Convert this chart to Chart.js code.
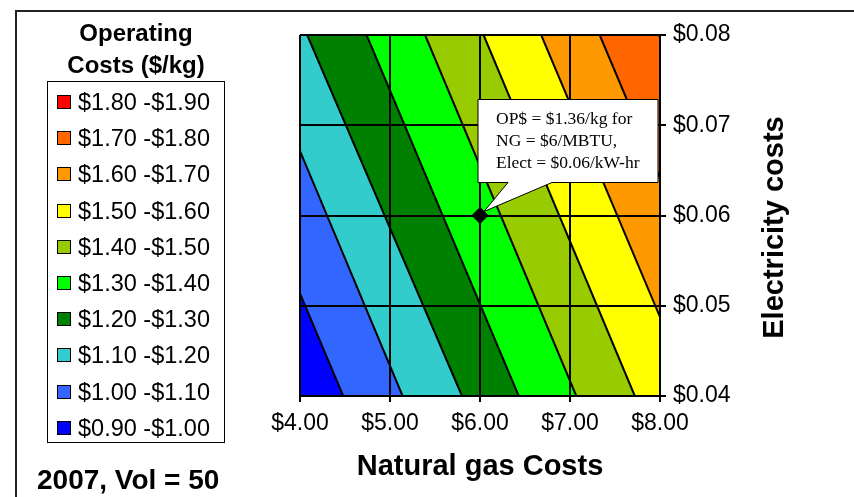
<!DOCTYPE html>
<html>
<head>
<meta charset="utf-8">
<script src="https://cdn.jsdelivr.net/npm/chart.js@4.4.1/dist/chart.umd.min.js"></script>
<style>
  body { margin: 0; background: #fff; font-family: "Liberation Sans", Arial, sans-serif; }
  #wrap { position: relative; width: 854px; height: 497px; overflow: hidden; }
  #frame { position: absolute; left: 15px; top: 10px; width: 900px; height: 600px; border: 2px solid #222; box-sizing: border-box; }
  #myChart { position: absolute; left: 0; top: 0; }
  #legendTitle { position: absolute; left: 47px; width: 178px; top: 17px; text-align: center; font-weight: bold; font-size: 24px; line-height: 32px; }
  #legendBox { position: absolute; left: 47px; top: 81px; width: 178px; height: 362px; border: 1px solid #000; box-sizing: border-box; }
  .item { position: absolute; left: 0; height: 28px; line-height: 28px; font-size: 23.5px; }
  .sw { position: absolute; left: 9px; top: 7px; width: 14px; height: 14px; border: 1px solid #000; box-sizing: border-box; }
  .lbl { position: absolute; left: 30px; top: 0; white-space: nowrap; }
  #volNote { position: absolute; left: 37px; top: 464px; font-weight: bold; font-size: 28px; line-height: 32px; }
</style>
</head>
<body>
<div id="wrap">
  <div id="frame"></div>
  <canvas id="myChart" width="854" height="497"></canvas>
  <div id="legendTitle">Operating<br>Costs ($/kg)</div>
  <div id="legendBox"></div>
  <div id="volNote">2007, Vol = 50</div>
</div>
<script>
// contour levels ($/kg) and where each contour line meets the top / bottom of the plot (NG $/MBTU)
const levels = [0.90, 1.00, 1.10, 1.20, 1.30, 1.40, 1.50, 1.60, 1.70, 1.80, 1.90];
const ngAtElect008 = [2.13, 2.79, 3.46, 4.08, 4.74, 5.39, 6.04, 6.68, 7.33, 7.99, 8.64];
const ngAtElect004 = [3.81, 4.48, 5.14, 5.80, 6.43, 7.07, 7.72, 8.37, 9.02, 9.68, 10.33];
const electEdges = [0.04, 0.08];

// bands, lowest first
const bandLabels = ['$0.90 -$1.00', '$1.00 -$1.10', '$1.10 -$1.20', '$1.20 -$1.30', '$1.30 -$1.40',
                    '$1.40 -$1.50', '$1.50 -$1.60', '$1.60 -$1.70', '$1.70 -$1.80', '$1.80 -$1.90'];
const bandColors = ['#0000ff', '#3366ff', '#33cccc', '#008000', '#00ff00',
                    '#99cc00', '#ffff00', '#ff9900', '#ff6600', '#ff0000'];

const xTickLabels = ['$4.00', '$5.00', '$6.00', '$7.00', '$8.00'];
const yTickLabels = ['$0.04', '$0.05', '$0.06', '$0.07', '$0.08'];

// highlighted point
const markNG = [6];
const markElect = [0.06];
const noteLines = ['OP$ = $1.36/kg for', 'NG = $6/MBTU,', 'Elect = $0.06/kW-hr'];
const yTitle = 'Electricity costs';

// Legend (top = most expensive)
const legendBox = document.getElementById('legendBox');
for (let i = bandLabels.length - 1, k = 0; i >= 0; i--, k++) {
    const item = document.createElement('div');
    item.className = 'item';
    item.style.top = (20 + k * 36.2 - 14) + 'px';
    item.innerHTML = '<span class="sw" style="background:' + bandColors[i] + '"></span><span class="lbl">' + bandLabels[i] + '</span>';
    legendBox.appendChild(item);
}

Chart.defaults.font.family = '"Liberation Sans", Arial, sans-serif';
Chart.defaults.color = '#000';

// one line per contour level, each filled down to the previous one
const datasets = levels.map((lv, i) => ({
    label: '$' + lv.toFixed(2),
    data: [
        { x: ngAtElect004[i], y: electEdges[0] },
        { x: ngAtElect008[i], y: electEdges[1] }
    ],
    borderColor: '#000',
    borderWidth: 2,
    pointRadius: 0,
    fill: i === 0 ? false : '-1',
    backgroundColor: i === 0 ? 'transparent' : bandColors[i - 1]
}));

datasets.push({
    label: 'OP$',
    data: markNG.map((v, i) => ({ x: v, y: markElect[i] })),
    showLine: false,
    pointStyle: 'rectRot',
    pointRadius: 8,
    backgroundColor: '#000',
    borderColor: '#000',
    order: -1
});

const callout = {
    id: 'callout',
    afterDraw(chart) {
        const { ctx, scales: { x, y } } = chart;
        const px = x.getPixelForValue(markNG[0]);
        const py = y.getPixelForValue(markElect[0]);
        const L = px - 2, R = px + 178, T = py - 116, B = py - 33;

        ctx.save();
        ctx.beginPath();
        ctx.moveTo(L, T);
        ctx.lineTo(R, T);
        ctx.lineTo(R, B);
        ctx.lineTo(px + 72, B);
        ctx.lineTo(px + 4, py - 4);
        ctx.lineTo(px + 28, B);
        ctx.lineTo(L, B);
        ctx.closePath();
        ctx.fillStyle = '#fff';
        ctx.fill();
        ctx.lineWidth = 1;
        ctx.strokeStyle = '#000';
        ctx.stroke();

        ctx.fillStyle = '#000';
        ctx.font = '17.5px "Liberation Serif", serif';
        ctx.textBaseline = 'middle';
        ctx.textAlign = 'left';
        noteLines.forEach((t, i) => ctx.fillText(t, px + 16, py - 96 + i * 22));

        // right axis title, reads bottom to top
        ctx.translate(775, (chart.chartArea.top + chart.chartArea.bottom) / 2 + 12);
        ctx.rotate(-Math.PI / 2);
        ctx.font = 'bold 29px "Liberation Sans", Arial, sans-serif';
        ctx.textAlign = 'center';
        ctx.fillText(yTitle, 0, 0);
        ctx.restore();
    }
};

const ctx = document.getElementById('myChart').getContext('2d');

new Chart(ctx, {
    type: 'line',
    data: { datasets },
    options: {
        responsive: false,
        animation: false,
        indexAxis: 'y',
        layout: { padding: { left: 300, top: 35, right: 0, bottom: 0 } },
        plugins: {
            legend: { display: false },
            tooltip: { enabled: false }
        },
        scales: {
            x: {
                type: 'linear',
                position: 'bottom',
                min: 4,
                max: 8,
                afterFit: s => { s.height = 101; },
                ticks: {
                    stepSize: 1,
                    padding: 8,
                    font: { size: 23 },
                    callback: (v, i) => xTickLabels[i]
                },
                grid: { color: '#000', lineWidth: 2, tickLength: 6, z: 1 },
                border: { color: '#000', width: 2, z: 1 },
                title: {
                    display: true,
                    text: 'Natural gas Costs',
                    font: { size: 29, weight: 'bold' },
                    padding: { top: 0, bottom: 13 }
                }
            },
            y: {
                type: 'linear',
                position: 'right',
                min: 0.04,
                max: 0.08,
                afterFit: s => { s.width = 194; },
                ticks: {
                    stepSize: 0.01,
                    padding: 7,
                    font: { size: 23 },
                    callback: (v, i) => yTickLabels[i]
                },
                grid: { color: '#000', lineWidth: 2, tickLength: 6, z: 1 },
                border: { color: '#000', width: 2, z: 1 }
            }
        }
    },
    plugins: [callout]
});
</script>
</body>
</html>
